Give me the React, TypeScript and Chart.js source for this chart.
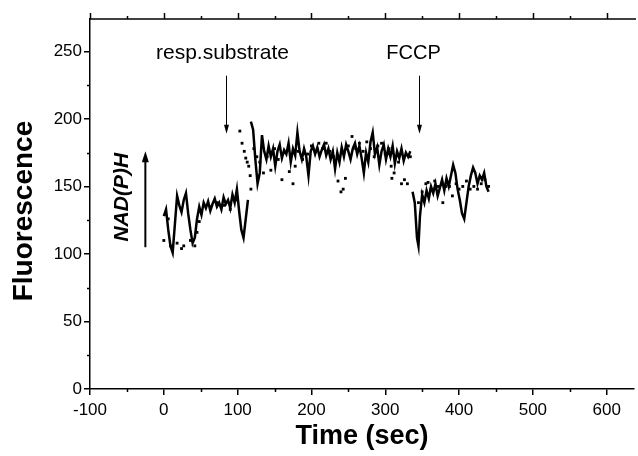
import React, { useEffect, useRef } from "react";
import { Chart, registerables } from "chart.js";

Chart.register(...registerables);

// ---------- axis ticks ----------
const xTicks = [-100, 0, 100, 200, 300, 400, 500, 600];
const xMinorTicks = [-50, 50, 150, 250, 350, 450, 550];
const yTicks = [0, 50, 100, 150, 200, 250];
const yMinorTicks = [25, 75, 125, 175, 225];

// ---------- solid trace (three segments) ----------
const lineTime1 = [0, 3, 6, 9, 12, 15, 18, 21, 24, 27, 30, 33, 36, 39, 42, 45, 48, 51, 54, 57, 60, 63, 66, 69, 72, 75, 78, 81, 84, 87, 90, 93, 96, 99, 102, 105, 108, 111, 114];
const lineFluor1 = [128, 133, 118, 106, 101, 122, 143, 136, 131, 140, 145, 130, 118, 108, 112, 126, 135, 129, 138, 134, 139, 132, 137, 141, 135, 138, 133, 142, 137, 140, 134, 144, 138, 148, 132, 118, 112, 126, 140];

const lineTime2 = [118, 121, 124, 127, 130, 133, 136, 139, 142, 145, 148, 151, 154, 157, 160, 163, 166, 169, 172, 175, 178, 181, 184, 187, 190, 193, 196, 199, 202, 205, 208, 211, 214, 217, 220, 223, 226, 229, 232, 235, 238, 241, 244, 247, 250, 253, 256, 259, 262, 265, 268, 271, 274, 277, 280, 283, 286, 289, 292, 295, 298, 301, 304, 307, 310, 313, 316, 319, 322, 325, 328, 331, 334];
const lineFluor2 = [198, 192, 170, 152, 160, 188, 176, 170, 180, 172, 178, 165, 176, 181, 171, 177, 174, 182, 168, 178, 173, 190, 176, 170, 178, 172, 158, 176, 180, 174, 179, 172, 177, 181, 173, 178, 170, 176, 163, 175, 168, 179, 172, 181, 176, 170, 178, 182, 174, 180, 171, 160, 175, 168, 183, 190, 174, 179, 166, 176, 181, 170, 178, 172, 180, 167, 176, 171, 178, 169, 175, 172, 176];

const lineTime3 = [337, 340, 343, 345, 347, 350, 353, 356, 359, 362, 365, 368, 371, 374, 377, 380, 383, 386, 389, 392, 395, 398, 401, 404, 407, 410, 413, 416, 419, 422, 425, 428, 431, 434, 437, 440];
const lineFluor3 = [146, 138, 112, 106, 128, 144, 138, 147, 141, 150, 145, 152, 143, 149, 155, 147, 156, 150, 158, 166, 160, 148, 140, 130, 126, 138, 150, 158, 164, 160, 152, 158, 155, 160, 150, 146];

// ---------- dotted trace ----------
const dotTime = [0, 6, 9, 18, 24, 27, 36, 42, 45, 48, 54, 63, 72, 81, 90, 99,
  103, 106, 109, 111, 113, 115, 117, 118,
  122, 126, 130, 135, 140, 145, 150, 155, 160, 165, 170, 175, 178, 182, 188, 195, 200, 205, 210, 215, 220, 225, 230, 236, 240, 243, 246, 250, 255, 260, 265, 270, 275, 280, 285, 290, 295, 300, 305, 308, 309, 312, 318, 322, 326, 330, 334,
  345, 350, 355, 358, 362, 367, 372, 378, 382, 387, 391, 396, 400, 405, 410, 415, 420, 425, 430, 435, 440];
const dotFluor = [110, 126, 106, 108, 104, 106, 110, 106, 116, 124, 136, 135, 138, 136, 133, 140,
  191, 182, 176, 171, 168, 165, 158, 148,
  178, 172, 168, 160, 172, 162, 178, 170, 155, 175, 161, 152, 165, 176, 170, 174, 180, 176, 182, 178, 182, 176, 172, 154, 146, 148, 156, 180, 187, 178, 182, 176, 183, 178, 172, 180, 182, 174, 178, 165, 156, 160, 168, 152, 155, 152, 172,
  138, 146, 152, 153, 148, 154, 150, 138, 150, 150, 143, 152, 148, 150, 154, 148, 150, 148, 152, 155, 150];

// ---------- annotations ----------
const substrateTime = 84;
const fccpTime = 346;

const FONT = "'Liberation Sans', Arial, Helvetica, sans-serif";

function toXY(t: number[], f: number[]) {
  return t.map((v, i) => ({ x: v, y: f[i] }));
}

const overlayPlugin = {
  id: "overlay",
  afterDraw(chart: any) {
    const { ctx, chartArea } = chart;
    const xs = chart.scales.x;
    const ys = chart.scales.y;
    const { left, right, top, bottom } = chartArea;
    ctx.save();
    ctx.strokeStyle = "#000";
    ctx.fillStyle = "#000";
    ctx.lineWidth = 1.5;

    // top axis line
    ctx.beginPath();
    ctx.moveTo(left - 0.75, top);
    ctx.lineTo(right + 2, top);
    ctx.stroke();
    for (const v of xTicks) {
      const px = Math.round(xs.getPixelForValue(v)) + 0.5;
      ctx.beginPath();
      ctx.moveTo(px, top);
      ctx.lineTo(px, top - 6);
      ctx.stroke();
    }
    for (const v of xMinorTicks) {
      const px = Math.round(xs.getPixelForValue(v)) + 0.5;
      ctx.beginPath();
      ctx.moveTo(px, top);
      ctx.lineTo(px, top - 3);
      ctx.stroke();
      ctx.beginPath();
      ctx.moveTo(px, bottom);
      ctx.lineTo(px, bottom + 3);
      ctx.stroke();
    }
    for (const v of yMinorTicks) {
      const py = Math.round(ys.getPixelForValue(v)) + 0.5;
      ctx.beginPath();
      ctx.moveTo(left, py);
      ctx.lineTo(left - 3, py);
      ctx.stroke();
    }

    const arrow = (x: number, yFrom: number, yTo: number, lw: number, headL: number, headW: number) => {
      const dir = yTo > yFrom ? 1 : -1;
      ctx.lineWidth = lw;
      ctx.beginPath();
      ctx.moveTo(x, yFrom);
      ctx.lineTo(x, yTo - dir * headL * 0.6);
      ctx.stroke();
      ctx.beginPath();
      ctx.moveTo(x, yTo);
      ctx.lineTo(x - headW / 2, yTo - dir * headL);
      ctx.lineTo(x + headW / 2, yTo - dir * headL);
      ctx.closePath();
      ctx.fill();
    };

    const arrowTop = ys.getPixelForValue(232);
    const arrowTip = ys.getPixelForValue(189);
    const sx = Math.round(xs.getPixelForValue(substrateTime)) + 0.5;
    const fx = Math.round(xs.getPixelForValue(fccpTime)) + 0.5;
    arrow(sx, arrowTop, arrowTip, 1, 9, 5);
    arrow(fx, arrowTop, arrowTip, 1, 9, 5);

    ctx.textAlign = "center";
    ctx.textBaseline = "alphabetic";
    ctx.font = `21px ${FONT}`;
    ctx.fillText("resp.substrate", sx - 4, arrowTop - 17);
    ctx.font = `20px ${FONT}`;
    ctx.fillText("FCCP", fx - 6, arrowTop - 17);

    const nx = xs.getPixelForValue(-25);
    arrow(nx, ys.getPixelForValue(105), ys.getPixelForValue(176), 2, 11, 7);
    ctx.save();
    ctx.translate(xs.getPixelForValue(-57), ys.getPixelForValue(142));
    ctx.rotate(-Math.PI / 2);
    ctx.font = `italic bold 21px ${FONT}`;
    ctx.textAlign = "center";
    ctx.textBaseline = "middle";
    ctx.fillText("NAD(P)H", 0, 0);
    ctx.restore();

    ctx.textAlign = "center";
    ctx.textBaseline = "middle";
    ctx.font = `bold 27px ${FONT}`;
    ctx.fillText("Time (sec)", (left + right) / 2, 437);
    ctx.save();
    ctx.translate(24, 211);
    ctx.rotate(-Math.PI / 2);
    ctx.font = `bold 28px ${FONT}`;
    ctx.fillText("Fluorescence", 0, 0);
    ctx.restore();

    ctx.restore();
  },
};

export default function App() {
  const canvasRef = useRef<HTMLCanvasElement | null>(null);

  useEffect(() => {
    const canvas = canvasRef.current;
    if (!canvas) return;
    const lineData = [
      ...toXY(lineTime1, lineFluor1),
      { x: 116, y: null as any },
      ...toXY(lineTime2, lineFluor2),
      { x: 336, y: null as any },
      ...toXY(lineTime3, lineFluor3),
    ];
    const chart = new Chart(canvas, {
      type: "line",
      data: {
        datasets: [
          {
            type: "line",
            data: lineData as any,
            borderColor: "#000",
            borderWidth: 2.5,
            pointRadius: 0,
            tension: 0,
            spanGaps: false,
          },
          {
            type: "scatter",
            data: toXY(dotTime, dotFluor),
            pointStyle: "rect",
            pointRadius: 2,
            backgroundColor: "#000",
            borderColor: "#000",
            borderWidth: 0,
          } as any,
        ],
      },
      options: {
        responsive: false,
        maintainAspectRatio: false,
        animation: false,
        events: [],
        layout: { padding: { top: 19, right: 0, left: 0, bottom: 0 } },
        plugins: { legend: { display: false }, tooltip: { enabled: false } },
        scales: {
          x: {
            type: "linear",
            min: -100,
            max: 637,
            afterBuildTicks: (s: any) => {
              s.ticks = xTicks.map((v) => ({ value: v }));
            },
            afterFit: (s: any) => {
              s.height = 67;
            },
            grid: { drawOnChartArea: false, drawTicks: true, tickLength: 6, color: "#000", lineWidth: 1.5 },
            border: { display: true, color: "#000", width: 1.5 },
            ticks: { color: "#000", font: { family: FONT, size: 17 }, padding: 5, maxRotation: 0 },
          },
          y: {
            type: "linear",
            min: 0,
            max: 274,
            afterBuildTicks: (s: any) => {
              s.ticks = yTicks.map((v) => ({ value: v }));
            },
            afterFit: (s: any) => {
              s.width = 90;
            },
            grid: { drawOnChartArea: false, drawTicks: true, tickLength: 6, color: "#000", lineWidth: 1.5 },
            border: { display: true, color: "#000", width: 1.5 },
            ticks: { color: "#000", font: { family: FONT, size: 17 }, padding: 2 },
          },
        },
      },
      plugins: [overlayPlugin],
    });
    return () => chart.destroy();
  }, []);

  return (
    <div style={{ position: "absolute", left: 0, top: 0, width: 638, height: 456, background: "#fff" }}>
      <canvas ref={canvasRef} width={638} height={456} style={{ display: "block" }} />
    </div>
  );
}
